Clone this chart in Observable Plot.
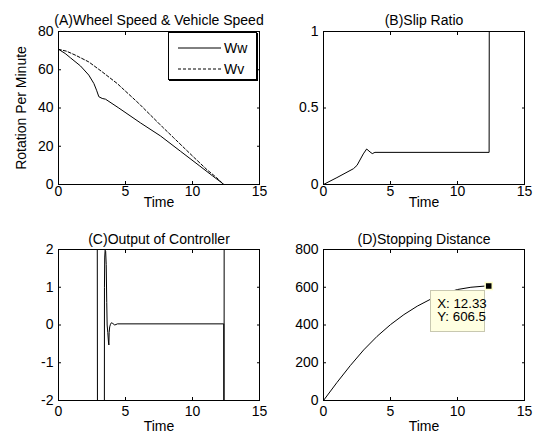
<!DOCTYPE html>
<html><head><meta charset="utf-8">
<script src="https://cdn.jsdelivr.net/npm/d3@7"></script>
<script src="https://cdn.jsdelivr.net/npm/@observablehq/plot@0.6"></script>
<style>
body{margin:0;background:#fff;}
#fig{position:relative;width:534px;height:440px;background:#fff;font-family:"Liberation Sans",Arial,sans-serif;font-size:14px;}
.panel{position:absolute;}
.legend{position:absolute;border:1px solid #000;box-shadow:1px 1px 0 #000;background:#fff;box-sizing:border-box;}
.tipbox{position:absolute;background:#ffffe1;border:1px solid #c8c8b0;box-sizing:border-box;padding:6px 0 0 6px;line-height:13.5px;color:#000;white-space:nowrap;font-size:13.3px;}
</style></head><body><div id="fig"></div>
<script>
// ---- titles & labels
const titles = ["(A)Wheel Speed & Vehicle Speed", "(B)Slip Ratio", "(C)Output of Controller", "(D)Stopping Distance"];
const xLabel = "Time";
const yLabelA = "Rotation Per Minute";
const legendNames = ["Ww", "Wv"];

// ---- ticks
const xTicks = [0, 5, 10, 15];
const yTicksA = [0, 20, 40, 60, 80];
const yTicksB = [0, 0.5, 1];
const yTicksC = [-2, -1, 0, 1, 2];
const yTicksD = [0, 200, 400, 600, 800];

// ---- (A) wheel speed Ww and vehicle speed Wv
const tWw = [0, 0.5, 0.9, 1.64, 2.26, 2.64, 2.84, 3.01, 3.26, 3.51, 4.5, 6.12, 7.61, 9.1, 10.5, 11.5, 12.2, 12.33];
const vWw = [70.7, 68.5, 66.2, 62.0, 57.2, 52.8, 49.3, 45.9, 45.0, 44.6, 40.0, 32.2, 25.4, 17.4, 9.9, 4.5, 0.8, 0];
const tWv = [0, 0.6, 1.27, 2.26, 3.26, 4.38, 5.99, 7.74, 8.6, 10.0, 11.1, 11.8, 12.33];
const vWv = [70.7, 69.7, 67.6, 64.1, 58.9, 52.8, 42.4, 30.2, 24.4, 14.9, 7.6, 3.6, 0];

// ---- (B) slip ratio
const tSlip = [0, 1.0, 2.23, 2.5, 2.72, 2.97, 3.22, 3.47, 3.64, 3.84, 12.36, 12.37];
const vSlip = [0, 0.045, 0.103, 0.125, 0.16, 0.2, 0.232, 0.213, 0.202, 0.21, 0.21, 1];

// ---- (C) controller output (values beyond +-2 are clipped by the axes)
const tCtrl = [0, 2.87, 2.93, 3.41, 3.43, 3.45, 3.48, 3.52, 3.56, 3.60, 3.63, 3.68, 3.73, 3.76, 3.78, 3.82, 3.88, 3.95, 4.05, 4.2, 4.4, 12.33, 12.35, 12.37];
const vCtrl = [10, 10, -10, -10, 1.0, 1.8, 1.98, 1.95, 1.6, 0.6, 0.0, -0.2, -0.45, -0.53, -0.2, -0.05, 0.02, 0.06, 0.04, 0.0, 0.03, 0.03, -10, 10];

// ---- (D) stopping distance
const tDist = [0, 1, 2, 3, 4, 5, 6, 7, 8, 9, 10, 11, 12, 12.33];
const vDist = [0, 95, 185, 268, 340, 402, 455, 500, 537, 566, 588, 600, 606, 606.5];
const tipX = 12.33, tipY = 606.5;

const rows = (ts, vs) => ts.map((t, i) => ({t, v: vs[i]}));
const fig = document.getElementById("fig");

function panel({left, top, width, height, margin, yDomain, yTicks, title, titleDy, labelDy, xPad, marks}) {
  const fmt = d => String(d);
  const p = Plot.plot({
    width, height,
    marginLeft: margin[3], marginRight: margin[1], marginTop: margin[0], marginBottom: margin[2],
    x: {domain: [0, 15]},
    y: {domain: yDomain},
    style: {fontFamily: "'Liberation Sans', Arial, sans-serif", fontSize: "14px", background: "transparent", overflow: "visible", color: "#000"},
    marks: [
      ...marks,
      Plot.frame({stroke: "#000", strokeWidth: 1}),
      Plot.axisX(xTicks, {anchor: "bottom", tickSize: -3, tickFormat: () => "", label: null}),
      Plot.axisX(xTicks, {anchor: "top", tickSize: -3, tickFormat: () => "", label: null}),
      Plot.axisY(yTicks, {anchor: "left", tickSize: -3, tickFormat: () => "", label: null}),
      Plot.axisY(yTicks, {anchor: "right", tickSize: -3, tickFormat: () => "", label: null}),
      Plot.axisX(xTicks, {anchor: "bottom", tickSize: 0, tickPadding: xPad, tickFormat: fmt, label: null, fill: "#000"}),
      Plot.axisY(yTicks, {anchor: "left", tickSize: 0, tickPadding: 5, tickFormat: fmt, label: null, fill: "#000"}),
      Plot.text([title], {text: d => d, frameAnchor: "top", dy: titleDy, fill: "#000"}),
      Plot.text([xLabel], {text: d => d, frameAnchor: "bottom", dy: labelDy, fill: "#000"})
    ]
  });
  const div = document.createElement("div");
  div.className = "panel";
  div.style.left = left + "px";
  div.style.top = top + "px";
  div.appendChild(p);
  fig.appendChild(div);
  return p;
}

// (A)
panel({
  left: 0, top: 0, width: 267, height: 220, margin: [31, 8, 36, 58],
  yDomain: [0, 80], yTicks: yTicksA, title: titles[0], titleDy: -16, labelDy: 22, xPad: 2,
  marks: [
    Plot.line(rows(tWw, vWw), {x: "t", y: "v", stroke: "#000", strokeWidth: 1}),
    Plot.line(rows(tWv, vWv), {x: "t", y: "v", stroke: "#000", strokeWidth: 1, strokeDasharray: "3,2"}),
    Plot.text([yLabelA], {text: d => d, frameAnchor: "left", textAnchor: "middle", rotate: -90, dx: -37, fill: "#000"})
  ]
});

// legend for (A)
const leg = document.createElement("div");
leg.className = "legend";
Object.assign(leg.style, {left: "168px", top: "32px", width: "89px", height: "48px"});
leg.innerHTML = `<svg width="88" height="47" style="display:block">
  <line x1="9" x2="52" y1="15" y2="15" stroke="#000" stroke-width="1"/>
  <line x1="9" x2="52" y1="36" y2="36" stroke="#000" stroke-width="1" stroke-dasharray="3,2"/>
  <text x="55" y="15" dy="0.35em" font-family="Liberation Sans, Arial" font-size="14">${legendNames[0]}</text>
  <text x="55" y="36" dy="0.35em" font-family="Liberation Sans, Arial" font-size="14">${legendNames[1]}</text>
</svg>`;
fig.appendChild(leg);

// (B)
panel({
  left: 267, top: 0, width: 267, height: 220, margin: [31, 10, 36, 56],
  yDomain: [0, 1], yTicks: yTicksB, title: titles[1], titleDy: -16, labelDy: 22, xPad: 2,
  marks: [
    Plot.line(rows(tSlip, vSlip), {x: "t", y: "v", stroke: "#000", strokeWidth: 1, clip: true})
  ]
});

// (C)
panel({
  left: 0, top: 220, width: 267, height: 220, margin: [29, 8, 40, 58],
  yDomain: [-2, 2], yTicks: yTicksC, title: titles[2], titleDy: -15, labelDy: 30, xPad: 6,
  marks: [
    Plot.line(rows(tCtrl, vCtrl), {x: "t", y: "v", stroke: "#000", strokeWidth: 1, clip: true})
  ]
});

// (D)
const pD = panel({
  left: 267, top: 220, width: 267, height: 220, margin: [29, 10, 40, 56],
  yDomain: [0, 800], yTicks: yTicksD, title: titles[3], titleDy: -15, labelDy: 30, xPad: 6,
  marks: [
    Plot.line(rows(tDist, vDist), {x: "t", y: "v", stroke: "#000", strokeWidth: 1}),
    Plot.dot([{t: tipX, v: tipY}], {x: "t", y: "v", symbol: "square", r: 4, fill: "#000", stroke: "#ffffcc", strokeWidth: 1.5})
  ]
});

// data tip box for (D)
const px = pD.scale("x").apply(tipX), py = pD.scale("y").apply(tipY);
const tip = document.createElement("div");
tip.className = "tipbox";
Object.assign(tip.style, {left: (267 + px - 58) + "px", top: (220 + py + 4) + "px", width: "55px", height: "42px"});
tip.innerHTML = `X: ${tipX}<br>Y: ${tipY}`;
fig.appendChild(tip);
</script>
</body></html>
